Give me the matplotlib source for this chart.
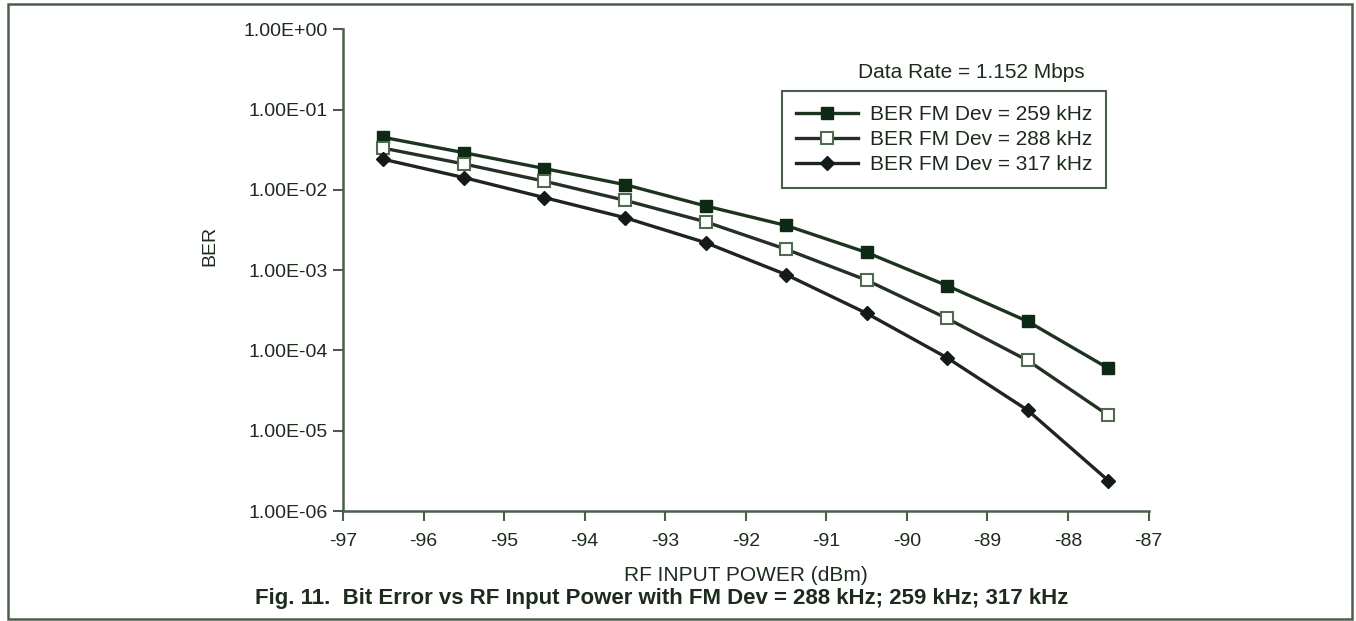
import numpy as np
import matplotlib
matplotlib.use("Agg")
import matplotlib.pyplot as plt
from matplotlib.patches import Rectangle

plt.rcParams['font.family'] = ['Liberation Sans', 'DejaVu Sans']

# RF input power (dBm)
power = [-96.5, -95.5, -94.5, -93.5, -92.5, -91.5, -90.5, -89.5, -88.5, -87.5]

# BER values
ber_259 = [4.5e-2, 2.9e-2, 1.84e-2, 1.16e-2, 6.3e-3, 3.6e-3, 1.66e-3, 6.4e-4, 2.3e-4, 6.0e-5]
ber_288 = [3.3e-2, 2.1e-2, 1.28e-2, 7.4e-3, 4.0e-3, 1.82e-3, 7.5e-4, 2.5e-4, 7.5e-5, 1.56e-5]
ber_317 = [2.4e-2, 1.42e-2, 8.0e-3, 4.5e-3, 2.2e-3, 8.8e-4, 2.9e-4, 8.1e-5, 1.8e-5, 2.4e-6]

labels = ['BER FM Dev = 259 kHz', 'BER FM Dev = 288 kHz', 'BER FM Dev = 317 kHz']

ytick_vals = [1e-6, 1e-5, 1e-4, 1e-3, 1e-2, 1e-1, 1e0]
ytick_labels = ['1.00E-06', '1.00E-05', '1.00E-04', '1.00E-03', '1.00E-02', '1.00E-01', '1.00E+00']
xtick_vals = list(range(-97, -86))

ink = '#1d2b1d'
axis_col = '#4a5e4a'

fig = plt.figure(figsize=(13.56, 6.21), dpi=100)
ax = fig.add_axes([0.253, 0.177, 0.594, 0.776])

ax.plot(power, ber_259, color='#1c3320', lw=2.4, marker='s', ms=8,
        mfc='#0f2a14', mec='#0f2a14', label=labels[0])
ax.plot(power, ber_288, color='#253025', lw=2.4, marker='s', ms=8,
        mfc='white', mec='#4f6a4f', mew=1.5, label=labels[1])
ax.plot(power, ber_317, color='#1e2420', lw=2.4, marker='D', ms=7,
        mfc='#141a16', mec='#141a16', label=labels[2])

ax.set_yscale('log')
ax.set_ylim(1e-6, 1e0)
ax.set_xlim(-97, -87)
ax.set_yticks(ytick_vals)
ax.set_yticklabels(ytick_labels)
ax.minorticks_off()
ax.set_xticks(xtick_vals)
ax.set_xticklabels([str(v) for v in xtick_vals])

for s in ['top', 'right']:
    ax.spines[s].set_visible(False)
for s in ['left', 'bottom']:
    ax.spines[s].set_color(axis_col)
    ax.spines[s].set_linewidth(1.8)

ax.tick_params(axis='y', direction='out', length=7, width=1.5, color=axis_col,
               labelsize=14, labelcolor=ink, pad=4)
ax.tick_params(axis='x', direction='out', length=7, width=1.5, color=axis_col,
               labelsize=14, labelcolor=ink, pad=9)

ax.set_ylabel('BER', fontsize=14, color=ink)
ax.yaxis.set_label_coords(-0.155, 0.55)
ax.set_xlabel('RF INPUT POWER (dBm)', fontsize=15, color=ink, labelpad=11)

fig.text(0.716, 0.884, 'Data Rate = 1.152 Mbps', fontsize=15, color=ink,
         ha='center', va='center')
leg = ax.legend(loc='upper left', bbox_to_anchor=(0.577, 0.853),
                bbox_transform=fig.transFigure, borderaxespad=0,
                fontsize=15, handlelength=3.0, handletextpad=0.55,
                labelspacing=0.3, borderpad=0.65, fancybox=False,
                framealpha=1, labelcolor=ink)
leg.get_frame().set_edgecolor(axis_col)
leg.get_frame().set_linewidth(1.5)

fig.text(0.488, 0.036, 'Fig. 11.  Bit Error vs RF Input Power with FM Dev = 288 kHz; 259 kHz; 317 kHz',
         fontsize=16, fontweight='bold', color=ink, ha='center', va='center')

# page frame
fig.patches.append(Rectangle((0.0059, 0.003), 0.991, 0.99, transform=fig.transFigure,
                             fill=False, edgecolor=axis_col, lw=1.8))

fig.savefig('out.png', dpi=100)
